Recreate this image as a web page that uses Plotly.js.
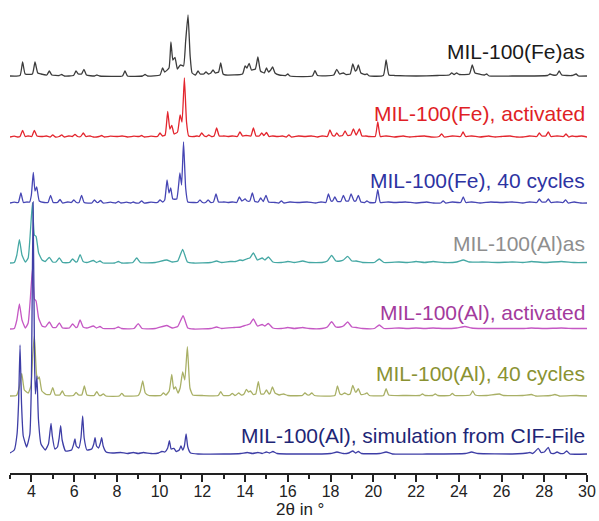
<!DOCTYPE html>
<html><head><meta charset="utf-8">
<script src="https://cdn.plot.ly/plotly-3.0.1.min.js"></script>
<style>html,body{margin:0;padding:0;background:#fff}</style>
</head><body><div id="chart" style="width:599px;height:521px"></div>
<script>
// Series names
const names = ["MIL-100(Fe)as","MIL-100(Fe), activated","MIL-100(Fe), 40 cycles","MIL-100(Al)as","MIL-100(Al), activated","MIL-100(Al), 40 cycles","MIL-100(Al), simulation from CIF-File"];
// Vertical stacking offsets (intensity units)
const offsets = [397, 336, 270, 210, 144, 77, 19];
const xTicks = [4,6,8,10,12,14,16,18,20,22,24,26,28,30];
const xTitle = "2θ in °";

// Traced curves: [2theta, intensity above baseline]
const feAs = [[3.0,0],[3.47,0.5],[3.59,14],[3.71,2],[4.05,2],[4.17,14],[4.3,3],[4.45,2],[4.72,1],[4.84,5],[4.96,1],[5.3,0.5],[5.42,1.5],[5.54,0],[5.97,0.5],[6.09,5],[6.2,2],[6.35,2],[6.46,6.7],[6.58,1],[6.95,0],[7.06,1],[7.2,0],[8.26,0],[8.38,5],[8.5,0],[9.2,0],[9.32,1.5],[9.44,0],[10.02,1],[10.14,8],[10.24,4],[10.44,8],[10.53,34],[10.62,16],[10.72,18.7],[10.83,7],[10.9,9],[10.98,11],[11.12,10],[11.22,35],[11.33,61],[11.43,20],[11.52,3],[11.68,1],[11.8,5],[11.9,2],[12.07,2],[12.17,4],[12.28,2],[12.4,3],[12.5,6],[12.6,3],[12.76,4],[12.86,13],[12.97,2],[13.1,1],[13.88,2],[14.0,10],[14.09,8],[14.19,12.7],[14.3,6],[14.48,7],[14.6,19],[14.72,5],[14.9,3],[15.0,8],[15.1,4],[15.2,6],[15.29,9],[15.4,3],[15.6,1],[15.9,0.5],[16.0,2],[16.1,0],[17.15,0],[17.27,5.3],[17.39,0.5],[18.15,1],[18.29,6.7],[18.42,2],[18.6,3],[18.72,1.5],[18.92,2],[19.04,12],[19.16,5],[19.22,6],[19.3,11],[19.42,3],[19.6,1.5],[19.7,2],[19.82,0],[20.47,0.5],[20.6,16],[20.73,1],[21.0,0.5],[22,0],[23.0,0.5],[23.55,1],[23.67,3],[23.78,1.5],[23.9,3],[24.02,1.5],[24.5,2],[24.63,11],[24.76,3],[24.95,2],[25.2,1],[25.3,2],[25.42,0],[26.5,0],[28.15,0.5],[28.27,2],[28.4,1],[28.58,1],[28.7,5],[28.82,1],[29.3,0.5],[29.49,2],[29.6,0],[30,0]];
const feAct = [[3.0,0],[3.2,0.8],[3.35,0],[3.47,0.5],[3.59,6.7],[3.71,0.5],[3.85,1],[4.02,0.5],[4.14,6.7],[4.26,1],[4.5,0.5],[4.7,1],[4.88,0],[5.0,2],[5.12,0],[5.3,0.5],[5.42,2],[5.54,0],[5.75,1],[5.92,0.5],[6.04,2.5],[6.16,0.5],[6.31,0.5],[6.43,4],[6.55,0.5],[6.75,1],[6.9,0],[7.17,0.5],[7.29,1.5],[7.41,0],[7.7,0.8],[8.0,0.5],[8.25,1],[8.5,0],[8.8,0.8],[9.04,0.5],[9.16,1.5],[9.28,0],[9.6,0.8],[9.9,0.5],[10.02,4],[10.14,1],[10.26,2],[10.38,25.7],[10.48,8],[10.57,11.7],[10.68,3],[10.84,5],[10.96,22],[11.05,15],[11.16,59],[11.26,15],[11.36,1],[11.6,0.5],[11.75,1],[11.85,0.5],[11.97,4],[12.09,1],[12.2,0.5],[12.3,2],[12.42,0.5],[12.55,1],[12.67,9],[12.79,1],[13.0,1],[13.2,0.5],[13.4,1],[13.64,0.5],[13.76,5],[13.88,1],[14.05,1.5],[14.27,1],[14.39,9],[14.51,1],[14.66,1],[14.78,4],[14.88,1.5],[15.0,4.5],[15.12,0.5],[15.3,1],[15.5,0.5],[15.75,1],[15.93,0],[16.05,2],[16.17,0],[16.5,1],[16.8,0.5],[17.1,1],[17.4,0],[17.6,1],[17.85,0.5],[17.97,7],[18.09,1.5],[18.19,1],[18.29,4],[18.4,1],[18.56,1.5],[18.68,6],[18.8,1.5],[18.95,2],[19.07,8],[19.2,2],[19.35,8],[19.47,1],[19.65,1],[19.8,0.5],[20.09,0.5],[20.21,15],[20.33,0.5],[20.6,1],[21.0,0],[21.4,1],[21.7,0],[22.0,0.5],[22.4,1],[22.7,0],[23.08,0.5],[23.2,3],[23.32,0],[23.7,1],[24.08,0.5],[24.2,5],[24.32,0.5],[24.6,1],[25.0,0],[25.4,1],[25.7,0],[26.0,0.5],[26.4,1],[26.7,0],[27.0,0],[27.3,1],[27.65,0.5],[27.77,4],[27.89,1],[28.07,1],[28.19,5],[28.31,0.5],[28.6,1],[28.9,0.5],[29.02,3],[29.14,0],[29.3,1],[29.5,0.5],[29.75,1],[30,0]];
const fe40 = [[3.0,0],[3.2,0.8],[3.39,0.5],[3.51,10],[3.63,0.5],[3.8,1],[3.92,1],[4.0,8],[4.09,30.7],[4.17,12],[4.25,16],[4.37,2],[4.6,0.5],[4.78,0.5],[4.9,7.7],[5.02,0.5],[5.22,0.5],[5.34,3.5],[5.46,0],[5.7,1],[5.87,0.5],[5.99,3],[6.11,0.5],[6.23,0.5],[6.35,7.7],[6.47,0.5],[6.83,0],[6.95,3],[7.07,0.5],[7.12,0.5],[7.24,2.5],[7.36,0],[7.7,0.8],[7.95,0],[8.07,1.5],[8.19,0],[8.45,0.8],[8.65,0],[8.77,1],[8.89,0],[9.04,0],[9.16,2],[9.28,0],[9.6,0.8],[9.9,0.5],[10.02,3],[10.14,1],[10.24,3],[10.35,23],[10.44,10],[10.52,15],[10.62,4],[10.8,4],[10.95,30],[11.03,18],[11.12,61],[11.22,15],[11.32,1],[11.6,0.5],[11.77,0.5],[11.89,3],[12.01,0.5],[12.15,0.5],[12.27,3],[12.39,0.5],[12.52,1],[12.64,9],[12.76,1],[13.0,1],[13.2,0.5],[13.4,1],[13.61,0.5],[13.73,6],[13.85,2],[14.0,4],[14.1,2],[14.22,2],[14.34,10],[14.46,1.5],[14.61,1],[14.73,5],[14.85,1.5],[14.98,7.7],[15.1,1],[15.4,0.5],[15.58,0],[15.7,2],[15.82,0],[16.1,1],[16.5,0.5],[16.9,1],[17.3,0],[17.55,1],[17.78,0.5],[17.9,9],[18.02,2],[18.1,2],[18.2,6],[18.32,1.5],[18.48,1.5],[18.6,7.7],[18.72,2],[18.84,2],[18.96,9],[19.1,2],[19.18,2],[19.3,7.7],[19.42,1],[19.6,0.5],[19.7,2],[19.82,0.5],[20.09,0.5],[20.21,13.4],[20.33,0.5],[20.7,1],[21.0,0.5],[21.5,1],[22.0,0],[22.5,1],[22.8,0],[23.15,0],[23.27,2],[23.39,0],[23.7,1],[24.09,0.5],[24.21,6],[24.33,0.5],[24.6,1],[25.0,0],[25.5,1],[26.0,0.5],[26.5,1],[27.0,0],[27.3,1],[27.65,0.5],[27.77,4],[27.89,1],[28.07,1],[28.19,4],[28.31,0.5],[28.6,1],[28.88,0.5],[29.0,3],[29.12,0],[29.4,1],[29.7,0],[30,0]];
const alAs = [[3.0,0],[3.2,0.5],[3.32,8],[3.44,23.4],[3.56,8],[3.72,1],[3.85,5],[3.95,30],[4.05,60],[4.14,28],[4.22,26.7],[4.34,10],[4.5,3],[4.65,1.5],[4.84,5.7],[5.0,1],[5.15,1],[5.31,5],[5.46,0.5],[5.78,0.5],[5.93,4],[6.08,1],[6.15,1.5],[6.28,8.4],[6.42,1.5],[6.6,0.5],[6.9,2.5],[7.05,0.5],[7.21,2],[7.36,0],[7.9,0],[8.07,1.5],[8.22,0],[8.75,0.5],[8.93,5],[9.1,0.5],[9.8,0.5],[10.33,3],[10.6,1],[10.85,2],[11.08,13.7],[11.3,1],[11.6,0],[12.4,0.5],[12.67,2],[12.9,0.5],[13.3,1.5],[13.55,1.5],[13.76,3],[13.9,2.5],[14.07,4],[14.22,5],[14.39,10],[14.58,3],[14.8,5],[14.93,3],[15.09,6],[15.3,1],[15.7,0.5],[16.0,1.5],[16.3,0.5],[16.7,2],[17.0,0.5],[17.6,0.5],[17.85,2],[18.05,7.7],[18.25,2],[18.45,2],[18.6,3],[18.8,6.7],[19.0,2],[19.2,2],[19.5,0.5],[20.05,0.5],[20.28,4],[20.5,0.5],[21.2,1],[21.6,0.5],[22.0,1.5],[22.4,0.5],[22.8,1.5],[23.3,0.5],[23.9,1],[24.21,3],[24.5,1],[25.1,1],[25.8,0.5],[26.5,1],[27.0,0.5],[27.4,1.5],[28.0,0.5],[28.8,1.5],[29.4,0.5],[30,0.5]];
const alAct = [[3.0,0],[3.2,0.5],[3.32,9],[3.44,25],[3.56,9],[3.72,1],[3.85,6],[3.95,30],[4.05,60],[4.14,30],[4.22,28],[4.34,11],[4.5,3],[4.65,2],[4.84,7],[5.0,1.5],[5.15,1.5],[5.31,6],[5.46,1],[5.78,1],[5.93,5],[6.08,1.5],[6.15,2],[6.28,9],[6.42,2],[6.6,1],[6.9,3],[7.05,1],[7.21,2.5],[7.36,0.5],[7.9,0.5],[8.07,2],[8.22,0.5],[8.8,0.5],[9.0,5.3],[9.18,0.5],[9.8,0.5],[10.33,3.5],[10.6,1],[10.85,2.5],[11.1,13.3],[11.32,1],[11.6,0],[12.4,0.5],[12.67,2],[12.9,0.5],[13.5,1.5],[13.8,2],[14.07,4],[14.22,5],[14.39,10],[14.58,3],[14.8,4.5],[14.93,3],[15.09,5.5],[15.3,1],[15.7,0.5],[16.0,1.5],[16.3,0.5],[16.7,1.5],[17.0,0.5],[17.6,0.5],[17.85,2],[18.05,7.3],[18.25,2],[18.45,2],[18.6,3],[18.8,7],[19.0,2],[19.2,1.5],[19.5,0.5],[20.05,0.5],[20.28,4],[20.5,0.5],[21.2,1],[21.6,0.5],[22.0,1],[22.4,0.5],[22.8,1],[23.3,0.5],[23.9,1],[24.29,2.5],[24.6,1],[25.1,0.5],[25.8,0.5],[26.5,0.5],[27.0,0.5],[27.4,1],[28.0,0.5],[28.8,1],[29.4,0.5],[30,0.5]];
const al40 = [[3.0,0],[3.3,0.5],[3.43,8],[3.55,22.7],[3.67,6],[3.85,3],[3.98,10],[4.06,40],[4.14,60],[4.24,22],[4.3,17],[4.37,19],[4.49,5],[4.7,1.5],[4.88,1.5],[5.0,8.3],[5.12,1],[5.33,1],[5.45,5],[5.57,0.5],[5.97,0.5],[6.09,3.7],[6.21,1],[6.36,1],[6.48,10],[6.6,1],[6.94,0.5],[7.06,4.3],[7.18,0.5],[7.25,0.5],[7.37,2],[7.49,0],[8.11,0],[8.23,2.7],[8.35,0],[9.0,0.5],[9.09,4],[9.21,15],[9.33,3],[9.5,0.5],[10.06,0.5],[10.18,3],[10.3,1],[10.45,5],[10.57,21.7],[10.66,7],[10.75,9],[10.86,3],[10.96,8],[11.08,24],[11.18,16],[11.3,49.3],[11.42,8],[11.55,1],[12.0,0.5],[12.74,0.5],[12.86,4.3],[12.98,0.5],[13.28,0.5],[13.4,2.5],[13.52,0.5],[13.58,1],[13.7,3],[13.82,1],[13.95,2],[14.06,6.7],[14.16,4],[14.25,5],[14.38,1.5],[14.5,2],[14.62,14.3],[14.74,2],[14.88,2],[15.0,6],[15.12,2],[15.18,3],[15.28,9],[15.4,3],[15.6,1],[15.8,2],[16.0,0.5],[16.68,0.5],[16.8,3],[16.93,1],[17.0,1],[17.12,3],[17.25,0.5],[18.2,0.5],[18.32,10],[18.44,2],[18.54,1.5],[18.66,3],[18.8,1.5],[18.92,2],[19.04,10.7],[19.16,4],[19.2,4],[19.3,7.3],[19.42,1.5],[19.6,2],[19.7,3],[19.82,0.5],[20.48,0.5],[20.6,7.3],[20.72,1],[21.5,0.5],[22.18,0.5],[22.3,2],[22.42,0.5],[22.78,0.5],[22.9,2],[23.02,0.5],[23.58,0.5],[23.7,2.5],[23.82,0.5],[24.53,1],[24.65,5],[24.77,1],[25.3,0.5],[25.9,2],[26.1,0.5],[27.0,0.5],[27.4,1.5],[27.6,0],[28.3,0.5],[28.5,1.5],[28.7,0],[29.5,0.5],[30,0]];
const sim = [[3.0,1],[3.2,4],[3.33,20],[3.4,50],[3.47,109],[3.54,50],[3.62,18],[3.78,7],[3.93,20],[4.0,70],[4.08,252],[4.15,90],[4.19,60],[4.26,78],[4.33,35],[4.45,10],[4.65,4],[4.8,10],[4.86,20],[4.92,30.7],[4.98,18],[5.1,5],[5.22,7],[5.3,16],[5.37,28.3],[5.44,14],[5.6,3],[5.88,4],[5.98,10],[6.04,15],[6.1,8],[6.22,6],[6.32,16],[6.4,38],[6.47,16],[6.6,4],[6.82,5],[6.92,10],[6.98,16.3],[7.05,8],[7.14,6],[7.23,11],[7.29,16.3],[7.36,8],[7.5,2],[7.8,1],[8.18,1.5],[8.5,0.5],[8.77,1.5],[9.0,0.5],[9.24,1.5],[9.6,0.5],[9.95,1],[10.1,2.5],[10.25,2],[10.38,6],[10.46,13.3],[10.54,5],[10.67,5.7],[10.78,2.5],[10.92,4],[11.0,8],[11.08,4],[11.16,8],[11.24,20],[11.32,7],[11.45,1],[11.8,0],[13.0,0],[13.8,0.5],[14.1,1.5],[14.35,0.5],[14.6,1.5],[14.8,0.5],[15.0,2],[15.15,1],[15.3,2.5],[15.5,0.5],[16.5,0],[18.0,0.5],[18.3,2],[18.6,0.5],[18.85,1],[19.04,3],[19.17,1],[19.3,2.5],[19.45,0.5],[20.3,0.5],[20.6,2],[20.9,0],[22.5,0],[24.3,0.5],[24.6,2],[24.9,0.5],[26.5,0],[27.0,0.5],[27.2,1],[27.33,1.5],[27.45,0.5],[27.55,2],[27.72,5.7],[27.85,1.5],[28.0,2],[28.19,6.7],[28.3,1],[28.45,0.5],[28.6,2],[28.75,0.5],[28.9,0.5],[29.05,3],[29.2,0],[30,0]];

const series = [feAs, feAct, fe40, alAs, alAct, al40, sim];
const lineColors = ["#3c3c3c","#e3262e","#4646b4","#45a8a4","#c558c4","#a9b066","#3e3ea6"];
const textColors = ["#1a1a1a","#e01f26","#2d33a2","#8e8e8e","#a33a9c","#8a9232","#1e2676"];
const labelY = [422, 360, 293, 230, 161, 100, 38];
const FONT = "Liberation Sans, Arial, sans-serif";

const traces = series.map((pts, i) => ({
  type: "scatter", mode: "lines",
  x: pts.map(p => p[0]),
  y: pts.map(p => p[1] + offsets[i]),
  line: {color: lineColors[i], width: 1.3, shape: "spline", smoothing: 0.4},
  hoverinfo: "skip", showlegend: false
}));

const annotations = names.map((n, i) => ({
  xref: "paper", yref: "y", x: 1.0, y: labelY[i], xanchor: "right", yanchor: "middle",
  text: n, showarrow: false,
  font: {family: FONT, size: 21, color: textColors[i]}
}));
// axis title placed below the tick labels
annotations.push({
  xref: "paper", yref: "paper", x: 0.502, y: -0.0994, xanchor: "center", yanchor: "bottom",
  text: xTitle, showarrow: false, borderpad: 0,
  font: {family: FONT, size: 17, color: "#222"}
});

const layout = {
  width: 599, height: 521,
  margin: {l: 10, r: 12, t: 0, b: 48, pad: 0},
  paper_bgcolor: "#fff", plot_bgcolor: "#fff",
  showlegend: false,
  xaxis: {
    range: [3, 30], tickvals: xTicks, ticktext: xTicks.map(String),
    ticks: "outside", ticklen: 7, tickwidth: 2, tickcolor: "#222",
    ticklabelstandoff: -4,
    showline: true, linewidth: 2, linecolor: "#222",
    showgrid: false, zeroline: false, automargin: false,
    minor: {tickvals: [3,5,7,9,11,13,15,17,19,21,23,25,27,29], ticks: "outside", ticklen: 4, tickwidth: 2, tickcolor: "#222", showgrid: false},
    tickfont: {family: FONT, size: 16, color: "#222"}
  },
  yaxis: {range: [0, 473], visible: false, showgrid: false, zeroline: false, fixedrange: true},
  annotations: annotations
};

Plotly.newPlot("chart", traces, layout, {staticPlot: true, displayModeBar: false});
</script></body></html>
